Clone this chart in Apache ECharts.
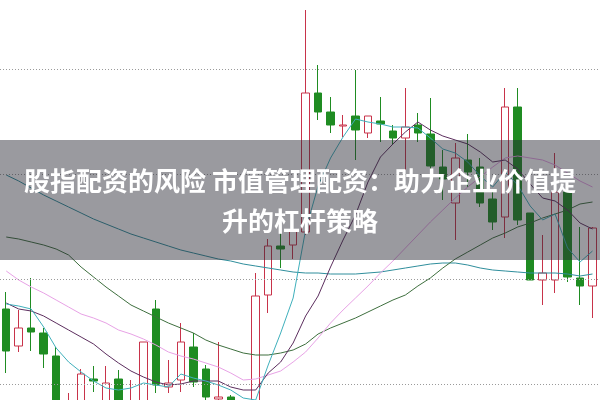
<!DOCTYPE html>
<html>
<head>
<meta charset="utf-8">
<script src="https://cdn.jsdelivr.net/npm/echarts@6/dist/echarts.min.js"></script>
<style>html,body{margin:0;padding:0;background:#fff}#c{width:600px;height:400px}</style>
</head>
<body>
<div id="c"></div>
<script>
const categories = ['1','2','3','4','5','6','7','8','9','10','11','12','13','14','15','16','17','18','19','20','21','22','23','24','25','26','27','28','29','30','31','32','33','34','35','36','37','38','39','40','41','42','43','44','45','46','47','48'];

// [open, close, low, high]
const candles = [
  [28.5,24.3,22.1,30.2],[24.8,26.6,24.2,28.4],[26.6,26.2,24.3,31.6],[26.1,24.0,22.6,26.6],
  [23.8,18.4,17.9,24.7],[17.6,19.2,16.9,20.1],[18.4,22.0,17.9,22.5],[21.5,21.3,20.2,22.8],
  [18.9,21.1,18.4,22.8],[21.5,18.4,17.6,22.4],[17.4,18.9,16.6,21.4],[18.2,25.2,17.6,25.2],
  [28.5,20.9,20.1,29.4],[20.7,21.1,20.1,23.4],[21.4,25.2,20.2,27.1],[24.7,21.2,20.7,26.1],
  [22.5,19.7,18.9,22.9],[19.5,19.7,18.6,25.2],[19.7,18.2,17.6,19.9],[17.4,12.4,11.6,18.6],
  [12.6,29.8,11.9,32.1],[29.9,34.8,28.1,35.5],[34.8,34.5,32.6,36.2],[34.9,36.4,33.5,37.2],
  [36.2,50.1,35.9,58.4],[50.1,48.2,47.4,52.9],[48.2,46.9,46.1,49.7],[46.8,46.9,45.7,47.9],
  [47.8,46.4,43.4,52.4],[46.1,47.8,45.6,47.8],[47.3,47.0,45.2,49.7],[46.3,45.6,44.9,46.9],
  [45.6,46.7,42.4,50.6],[46.9,46.1,45.2,48.1],[46.0,42.8,42.2,49.6],[42.7,41.5,39.4,44.4],
  [39.1,43.6,35.4,45.1],[43.4,42.2,40.7,46.0],[42.7,39.1,38.7,43.6],[39.5,37.2,36.4,40.2],
  [37.7,48.7,35.6,50.6],[48.7,37.4,36.9,50.6],[38.1,31.4,31.4,38.1],[31.4,32.1,28.9,35.9],
  [31.4,40.2,30.1,44.1],[40.2,31.7,31.2,40.9],[31.6,30.8,28.9,36.7],[30.8,36.6,27.6,36.7]
];

const ma5 = [29.0,28.8,28.5,26.7,24.6,23.2,22.2,21.3,20.6,20.4,20.6,21.1,20.9,20.7,22.0,21.6,21.3,20.9,20.4,19.6,19.4,22.9,26.1,29.6,36.4,40.8,43.6,45.7,47.5,47.2,47.0,46.7,46.7,46.6,45.6,44.5,44.1,43.2,41.8,40.7,42.2,40.9,38.8,37.4,38.0,34.6,33.2,34.3];
const ma10 = [29.1,28.5,28.3,27.8,27.1,26.4,25.7,25.0,24.0,23.1,22.3,21.7,21.2,20.9,21.0,21.3,21.3,21.3,20.7,20.4,20.4,22.1,23.2,25.1,27.8,29.8,32.7,35.4,37.9,41.2,43.7,45.0,46.2,47.2,46.4,45.8,45.4,45.0,44.2,43.2,43.4,42.5,41.0,39.6,39.3,38.4,37.1,36.5];
const ma20 = [32.3,31.4,30.7,30.1,29.4,28.7,28.0,27.6,27.1,26.4,26.0,25.5,24.9,24.2,23.8,23.5,23.1,22.7,22.1,21.4,21.5,21.9,22.3,23.2,24.2,25.6,27.1,28.4,29.6,30.8,32.1,33.3,34.6,35.9,37.2,38.4,39.6,40.7,41.7,42.7,43.6,43.8,43.6,43.4,42.9,42.1,41.3,40.7];
const ma30 = [35.7,35.5,35.2,34.9,34.5,33.9,32.7,31.7,30.7,29.8,28.9,28.3,27.7,27.1,26.6,26.1,25.4,24.9,24.5,24.1,23.9,23.9,24.1,24.4,25.0,26.0,26.6,27.1,27.6,28.2,28.8,29.4,29.9,30.8,31.6,32.6,33.5,34.2,34.9,35.6,36.1,36.7,37.1,37.6,38.0,38.4,39.0,39.2];
const ma60 = [41.9,41.3,40.6,39.9,39.3,38.7,38.1,37.5,37.0,36.5,36.0,35.6,35.2,34.8,34.4,34.1,33.8,33.5,33.3,33.0,32.8,32.6,32.4,32.2,32.1,32.1,32.0,32.0,32.0,32.1,32.2,32.4,32.6,32.8,33.0,33.1,33.1,32.9,32.6,32.4,32.3,32.2,32.1,32.1,32.1,32.0,31.8,32.0];

const gridLevels = [21, 31.5, 42, 52.5];

const titleLines = ['股指配资的风险 市值管理配资：助力企业价值提', '升的杠杆策略'];

const chart = echarts.init(document.getElementById('c'), null, {renderer: 'canvas'});

function maSeries(name, data, color) {
  return {
    name: name, type: 'line', data: data, symbol: 'none', smooth: false,
    lineStyle: {color: color, width: 1}, silent: true, animation: false
  };
}

chart.setOption({
  animation: false,
  backgroundColor: '#ffffff',
  grid: {left: -1.25, right: 1.25, top: 0, bottom: 0, containLabel: false},
  xAxis: {
    type: 'category', data: categories, boundaryGap: true,
    axisLine: {show: false}, axisTick: {show: false}, axisLabel: {show: false},
    splitLine: {show: false}
  },
  yAxis: {
    type: 'value', min: 19.4, max: 59.4, scale: true,
    axisLine: {show: false}, axisTick: {show: false}, axisLabel: {show: false},
    splitLine: {show: false}
  },
  series: [
    {
      name: 'K', type: 'candlestick', data: candles, barWidth: 8,
      itemStyle: {
        color: '#ffffff', color0: '#1f8c22',
        borderColor: '#c8334a', borderColor0: '#1f8c22', borderWidth: 1
      },
      markLine: {
        silent: true, symbol: ['none', 'none'], animation: false,
        label: {show: false},
        lineStyle: {color: '#9a9a9a', width: 1, type: [1, 2]},
        emphasis: {disabled: true},
        data: gridLevels.map(function (v) { return {yAxis: v}; })
      }
    },
    maSeries('MA60', ma60, '#2f8e9c'),
    maSeries('MA30', ma30, '#3e6f3e'),
    maSeries('MA20', ma20, '#e8a2e6'),
    maSeries('MA10', ma10, '#5c2e5e'),
    maSeries('MA5', ma5, '#3fb0bc')
  ],
  graphic: [
    {
      type: 'rect', z: 100, silent: true,
      shape: {x: 0, y: 140, width: 600, height: 120},
      style: {fill: 'rgba(40,40,50,0.47)'}
    },
    {
      type: 'text', z: 101, silent: true, x: 300, y: 181,
      style: {text: titleLines[0], fill: '#ffffff', align: 'center', verticalAlign: 'middle',
        font: 'bold 26px "Noto Sans CJK SC", sans-serif'}
    },
    {
      type: 'text', z: 101, silent: true, x: 300, y: 221,
      style: {text: titleLines[1], fill: '#ffffff', align: 'center', verticalAlign: 'middle',
        font: 'bold 26px "Noto Sans CJK SC", sans-serif'}
    }
  ]
});
</script>
</body>
</html>
